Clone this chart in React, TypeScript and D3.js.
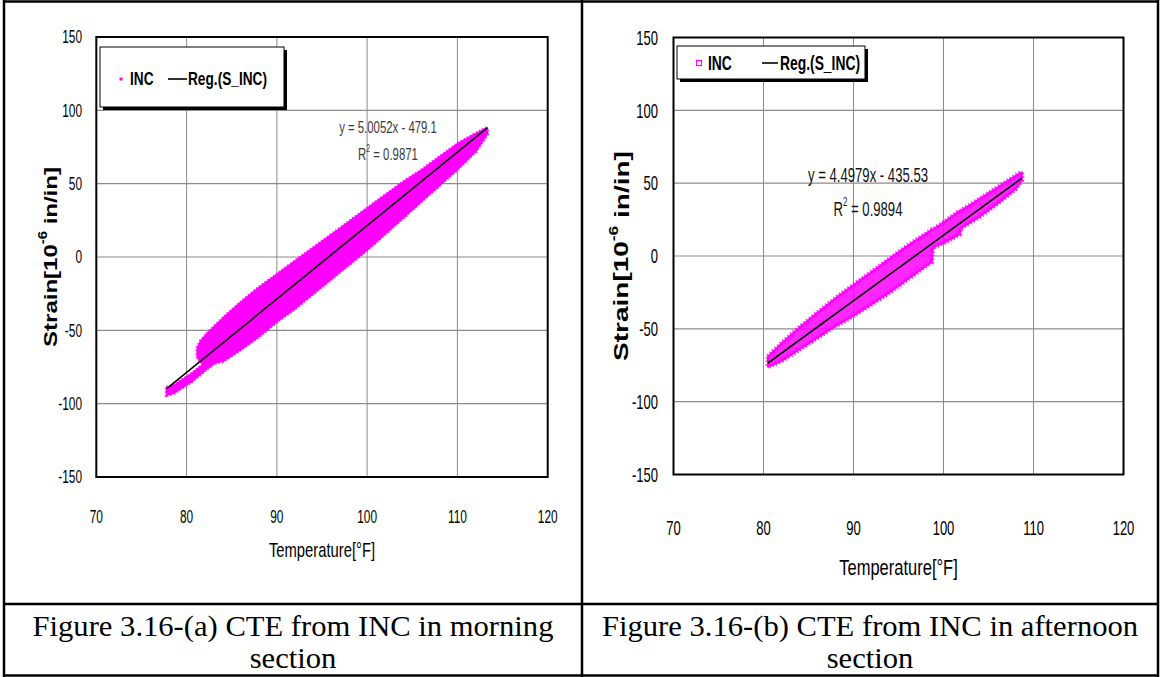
import React from 'react';
import * as d3 from 'd3';

const X_TICKS = [70, 80, 90, 100, 110, 120];
const Y_TICKS = [-150, -100, -50, 0, 50, 100, 150];

// (a) morning section – envelope of the INC scatter band
const A_BAND_TEMP = [81.2, 81.6, 82.5, 84, 86, 88, 90, 92, 94, 96, 98, 100, 102, 104, 106, 108, 110, 112, 113.3];
const A_BAND_UPPER = [-62, -57, -51, -42, -31, -21, -12, -3, 6, 15, 24, 33, 42, 51, 59, 68, 77, 84, 88];
const A_BAND_LOWER = [-68, -72, -73, -71, -63, -54, -44, -35, -25, -15, -5, 5, 16, 27, 38, 49, 60, 72, 84];
const A_TAIL_TEMP = [77.8, 78.5, 79.5, 80.5, 81.5, 82.5, 83.5];
const A_TAIL_UPPER = [-89, -88, -84, -80, -75, -71, -66];
const A_TAIL_LOWER = [-94, -93, -89, -85, -80, -75, -70];
const A_REG = { slope: 5.0052, intercept: -479.1, tMin: 77.8, tMax: 113.3 };
const A_EQ = ['y = 5.0052x - 479.1', '0.9871'];

// (b) afternoon section
const B_BAND_TEMP = [80.5, 82, 84, 86, 88, 90, 92, 94, 96, 98, 98.7, 98.8, 100, 101.8, 101.9, 104, 106, 108, 108.7];
const B_BAND_UPPER = [-69, -60, -49, -39, -29, -20, -11, -2, 7, 15, 18, 18, 23, 31, 31, 39, 47, 55, 57.5];
const B_BAND_LOWER = [-76, -72, -64, -56, -48, -41, -33, -25, -16, -7, -4, 6, 9, 15, 19, 27, 36, 46, 52];
const B_REG = { slope: 4.4979, intercept: -435.53, tMin: 80.5, tMax: 108.7 };
const B_EQ = ['y = 4.4979x - 435.53', '0.9894'];

const CAPTIONS = [
  ['Figure 3.16-(a) CTE from INC in morning', 'section'],
  ['Figure 3.16-(b) CTE from INC in afternoon', 'section'],
];

const SANS = '"Liberation Sans", Arial, sans-serif';
const SERIF = '"Liberation Serif", "Times New Roman", serif';
const MAGENTA = '#ff00ff';

type Band = { t: number[]; hi: number[]; lo: number[] };

function zipBand(b: Band) {
  return b.t.map((t, i) => ({ t, hi: b.hi[i], lo: b.lo[i] }));
}

function SText(p: any) {
  const { x, y, sx = 1, size, weight = 'normal', anchor = 'middle', fill = '#000', family = SANS, children } = p;
  return (
    <text
      transform={`translate(${x},${y}) scale(${sx},1)`}
      textAnchor={anchor}
      dominantBaseline="central"
      fontFamily={family}
      fontSize={size}
      fontWeight={weight}
      fill={fill}
    >
      {children}
    </text>
  );
}

function Panel({ cfg }: { cfg: any }) {
  const { plot, bands, reg, eq, font, legend } = cfg;
  const x = d3.scaleLinear().domain([70, 120]).range([plot.l, plot.r]);
  const y = d3.scaleLinear().domain([-150, 150]).range([plot.b, plot.t]);
  const area = d3
    .area<any>()
    .x((d) => x(d.t))
    .y0((d) => y(d.lo))
    .y1((d) => y(d.hi));
  const regLine = d3.line<number>()
    .x((t) => x(t))
    .y((t) => y(reg.slope * t + reg.intercept));

  return (
    <g>
      <rect x={plot.l} y={plot.t} width={plot.r - plot.l} height={plot.b - plot.t} fill="#fff" />
      {X_TICKS.slice(1, -1).map((t) => (
        <line key={'gx' + t} x1={x(t)} x2={x(t)} y1={plot.t} y2={plot.b} stroke="#8c8c8c" strokeWidth={1} />
      ))}
      {Y_TICKS.slice(1, -1).map((v) => (
        <line key={'gy' + v} x1={plot.l} x2={plot.r} y1={y(v)} y2={y(v)} stroke="#8c8c8c" strokeWidth={1.2} />
      ))}
      {bands.map((b: Band, i: number) => (
        <g key={'band' + i}>
          <path
            d={area(zipBand(b)) || ''}
            fill={MAGENTA}
            fillOpacity={cfg.bandOpacity}
            stroke={MAGENTA}
            strokeWidth={2}
            strokeLinejoin="round"
          />
          <path
            d={area(zipBand(b)) || ''}
            fill="none"
            stroke={MAGENTA}
            strokeWidth={cfg.fuzz}
            strokeDasharray="1.5 2"
            strokeOpacity={0.8}
          />
        </g>
      ))}
      <path d={regLine([reg.tMin, reg.tMax]) || ''} stroke="#000" strokeWidth={1.6} fill="none" />
      <rect x={plot.l} y={plot.t} width={plot.r - plot.l} height={plot.b - plot.t} fill="none" stroke="#000" strokeWidth={2} />

      {Y_TICKS.map((v) => (
        <SText key={'yl' + v} x={font.yLabelRight} y={y(v)} sx={font.sx} size={font.size} anchor="end">
          {v}
        </SText>
      ))}
      {X_TICKS.map((t) => (
        <SText key={'xl' + t} x={x(t)} y={font.xLabelY} sx={font.sx} size={font.size}>
          {t}
        </SText>
      ))}
      <SText x={(plot.l + plot.r) / 2} y={cfg.xTitle.y} sx={cfg.xTitle.sx} size={cfg.xTitle.size}>
        Temperature[°F]
      </SText>
      <text
        transform={`translate(${cfg.yTitle.x},${(plot.t + plot.b) / 2}) rotate(-90) scale(1,${cfg.yTitle.sy})`}
        textAnchor="middle"
        dominantBaseline="central"
        fontFamily={SANS}
        fontSize={cfg.yTitle.size}
        fontWeight="bold"
      >
        Strain[10
        <tspan fontSize={cfg.yTitle.size * 0.62} dy={-cfg.yTitle.size * 0.38}>-6</tspan>
        <tspan dy={cfg.yTitle.size * 0.38}> in/in]</tspan>
      </text>

      {/* legend */}
      <rect x={legend.x + 3} y={legend.y + 3} width={legend.w} height={legend.h} fill="#000" />
      <rect x={legend.x} y={legend.y} width={legend.w} height={legend.h} fill="#fff" stroke="#000" strokeWidth={1} />
      {legend.hollow ? (
        <rect x={legend.markX - 2.5} y={legend.cy - 2.5} width={5} height={5} fill="none" stroke={MAGENTA} strokeWidth={1.2} />
      ) : (
        <rect x={legend.markX - 1.5} y={legend.cy - 1.5} width={3} height={3} fill={MAGENTA} />
      )}
      <SText x={legend.incX} y={legend.cy} sx={legend.sx} size={legend.size} weight="bold" anchor="start">
        INC
      </SText>
      <line x1={legend.lineX1} x2={legend.lineX2} y1={legend.cy} y2={legend.cy} stroke="#000" strokeWidth={1.6} />
      <SText x={legend.regX} y={legend.cy} sx={legend.sx} size={legend.size} weight="bold" anchor="start">
        Reg.(S_INC)
      </SText>

      {/* equation */}
      <SText x={cfg.eqPos.x} y={cfg.eqPos.y1} sx={cfg.eqPos.sx} size={cfg.eqPos.size} fill={cfg.eqPos.fill}>
        {eq[0]}
      </SText>
      <SText x={cfg.eqPos.x} y={cfg.eqPos.y2} sx={cfg.eqPos.sx} size={cfg.eqPos.size} fill={cfg.eqPos.fill}>
        R
        <tspan fontSize={cfg.eqPos.size * 0.6} dy={-cfg.eqPos.size * 0.35}>2</tspan>
        <tspan dy={cfg.eqPos.size * 0.35}>{' = ' + eq[1]}</tspan>
      </SText>
    </g>
  );
}

const PANEL_A = {
  plot: { l: 96.3, r: 547.7, t: 37, b: 477 },
  bands: [
    { t: A_BAND_TEMP, hi: A_BAND_UPPER, lo: A_BAND_LOWER },
    { t: A_TAIL_TEMP, hi: A_TAIL_UPPER, lo: A_TAIL_LOWER },
  ],
  bandOpacity: 1,
  fuzz: 4,
  reg: A_REG,
  eq: A_EQ,
  font: { size: 18, sx: 0.66, yLabelRight: 82, xLabelY: 517 },
  xTitle: { y: 550, size: 20, sx: 0.74 },
  yTitle: { x: 50, size: 24, sy: 0.8 },
  legend: {
    x: 100, y: 47, w: 184, h: 60, cy: 79, hollow: false,
    markX: 121, incX: 130, lineX1: 168, lineX2: 187, regX: 188, size: 19, sx: 0.72,
  },
  eqPos: { x: 388, y1: 127, y2: 154, size: 17, sx: 0.67, fill: '#3a3a3a' },
};

const PANEL_B = {
  plot: { l: 673.5, r: 1123.5, t: 37.5, b: 474.5 },
  bands: [{ t: B_BAND_TEMP, hi: B_BAND_UPPER, lo: B_BAND_LOWER }],
  bandOpacity: 0.85,
  fuzz: 5,
  reg: B_REG,
  eq: B_EQ,
  font: { size: 21, sx: 0.62, yLabelRight: 658, xLabelY: 528 },
  xTitle: { y: 567, size: 22, sx: 0.75 },
  yTitle: { x: 621, size: 28, sy: 0.75 },
  legend: {
    x: 677, y: 46, w: 188, h: 33, cy: 63, hollow: true,
    markX: 699, incX: 708, lineX1: 762, lineX2: 778, regX: 780, size: 21, sx: 0.66,
  },
  eqPos: { x: 868, y1: 175, y2: 209, size: 21, sx: 0.625, fill: '#111' },
};

export default function App() {
  const W = 1161;
  const H = 677;
  const cellCenters = [293, 870];
  return (
    <svg
      width={W}
      height={H}
      viewBox={`0 0 ${W} ${H}`}
      style={{ position: 'absolute', left: 0, top: 0, background: '#fff' }}
    >
      <rect x={0} y={0} width={W} height={H} fill="#fff" />
      <Panel cfg={PANEL_A} />
      <Panel cfg={PANEL_B} />
      {CAPTIONS.map((c, i) => (
        <g key={'cap' + i}>
          <SText x={cellCenters[i]} y={626} sx={1.02} size={30} family={SERIF}>
            {c[0]}
          </SText>
          <SText x={cellCenters[i]} y={658} sx={1.02} size={30} family={SERIF}>
            {c[1]}
          </SText>
        </g>
      ))}
      {/* table borders */}
      <g stroke="#000" strokeWidth={2.5}>
        <line x1={4} x2={4} y1={0} y2={677} />
        <line x1={582} x2={582} y1={0} y2={677} />
        <line x1={1158} x2={1158} y1={0} y2={677} />
        <line x1={3} x2={1159} y1={1.5} y2={1.5} />
        <line x1={3} x2={1159} y1={604} y2={604} />
        <line x1={3} x2={1159} y1={675.5} y2={675.5} />
      </g>
    </svg>
  );
}
